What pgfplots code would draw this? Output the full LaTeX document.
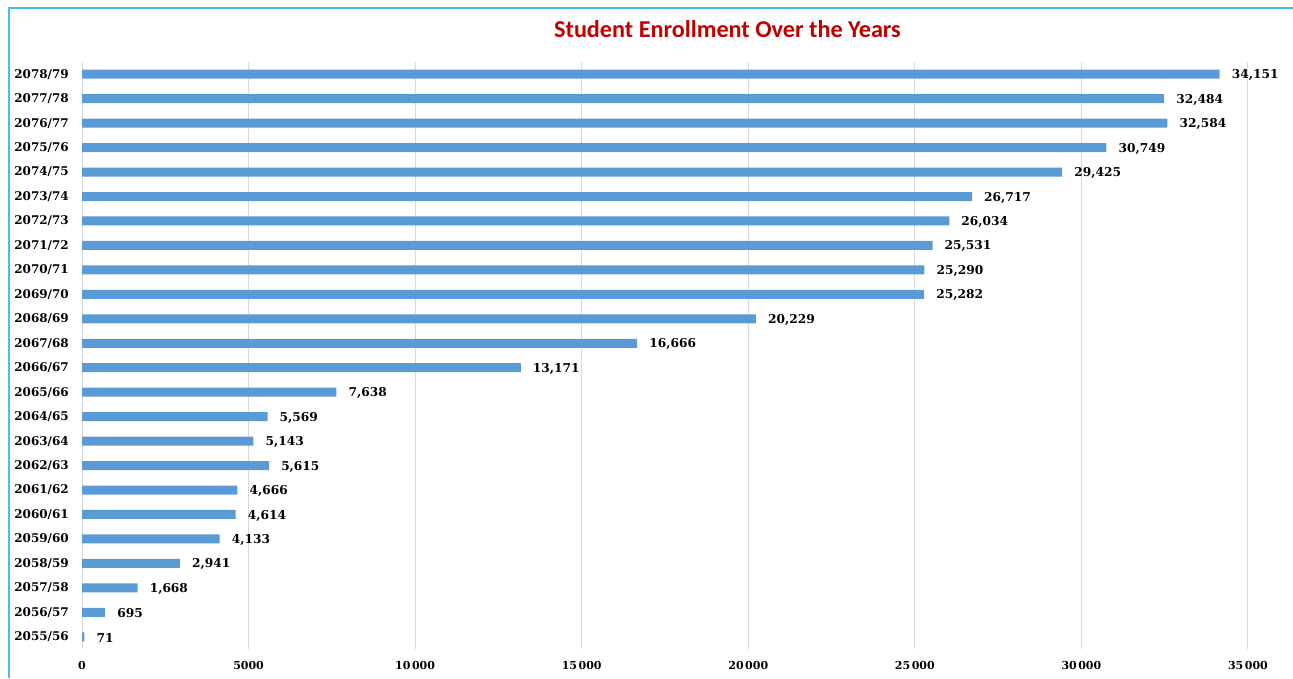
\documentclass[border=0pt]{standalone}
\usepackage{fontspec}
\setmainfont{DejaVu Serif}
\newfontfamily\titlefont{Carlito}
\usepackage{pgfplots}
\pgfplotsset{compat=1.18}
\definecolor{barblue}{HTML}{5B9BD5}
\definecolor{titlered}{HTML}{C00000}
\definecolor{framecol}{HTML}{40C0F0}
\definecolor{gridcol}{HTML}{D9D9D9}
\begin{document}
\begin{tikzpicture}
\useasboundingbox (0pt,0pt) rectangle (1293pt,678pt);
\draw[framecol, line width=1.5pt] (9pt,0pt) -- (9pt,670pt) -- (1293pt,670pt);
\node[text=titlered, font=\titlefont\bfseries\fontsize{24.2}{28}\selectfont, anchor=center] at (727.5pt,649pt) {Student Enrollment Over the Years};
\begin{axis}[
  at={(82pt,29pt)}, anchor=south west,
  scale only axis, width=1166pt, height=587pt,
  xbar, bar width=9pt,
  xmin=0, xmax=35000,
  ymin=-0.5, ymax=23.5,
  axis line style={draw=none},
  major tick length=0pt,
  xtick={0,5000,10000,15000,20000,25000,30000,35000},
  xticklabels={0,5000,10\kern1.5pt000,15\kern1.5pt000,20\kern1.5pt000,25\kern1.5pt000,30\kern1.5pt000,35\kern1.5pt000},
  ytick={0,...,23},
  yticklabels={2055/56,2056/57,2057/58,2058/59,2059/60,2060/61,2061/62,2062/63,2063/64,2064/65,2065/66,2066/67,2067/68,2068/69,2069/70,2070/71,2071/72,2072/73,2073/74,2074/75,2075/76,2076/77,2077/78,2078/79},
  xmajorgrids, grid style={gridcol, line width=1pt},
  xticklabel style={font=\bfseries\fontsize{11}{13}\selectfont, inner sep=0pt, anchor=north, yshift=-12pt},
  yticklabel style={font=\bfseries\fontsize{12}{14}\selectfont, inner sep=0pt, anchor=east, xshift=-13pt},
  nodes near coords={\pgfmathprintnumber[assume math mode=true, 1000 sep={,}]{\pgfplotspointmeta}},
  nodes near coords style={font=\bfseries\fontsize{12.2}{14}\selectfont, anchor=west, inner sep=0pt, xshift=12pt, yshift=-1pt},
  clip=false,
]
\addplot[fill=barblue, draw=none] coordinates {
(71,0) (695,1) (1668,2) (2941,3) (4133,4) (4614,5) (4666,6) (5615,7) (5143,8) (5569,9) (7638,10) (13171,11) (16666,12) (20229,13) (25282,14) (25290,15) (25531,16) (26034,17) (26717,18) (29425,19) (30749,20) (32584,21) (32484,22) (34151,23)
};
\end{axis}
\end{tikzpicture}
\end{document}
